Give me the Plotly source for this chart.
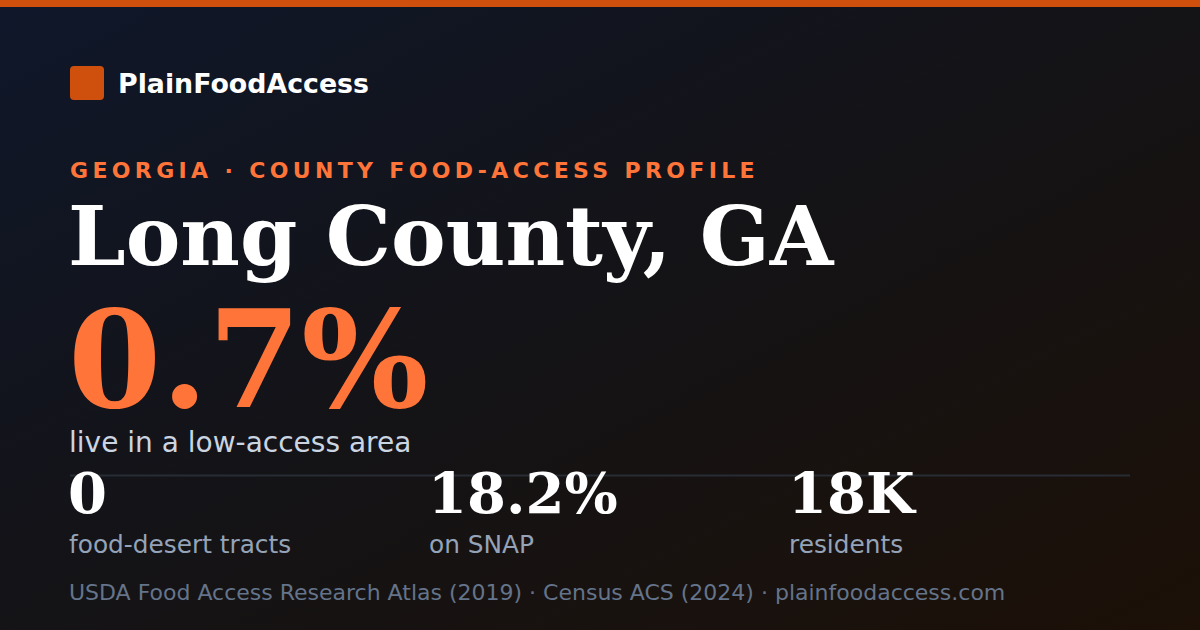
import base64
import plotly.graph_objects as go

# ---- data ----
brand = "PlainFoodAccess"
state_name = "GEORGIA"
county_name = "Long County, GA"
low_access_share = "0.7%"
low_access_label = "live in a low-access area"
stat_values = ["0", "18.2%", "18K"]
stat_labels = ["food-desert tracts", "on SNAP", "residents"]
sources = ["USDA Food Access Research Atlas (2019)", "Census ACS (2024)", "plainfoodaccess.com"]

# ---- style ----
W, H = 1200, 630
ORANGE = "#ff7439"
BRAND_ORANGE = "#cf4f0d"
SANS = "DejaVu Sans"
SERIF = "DejaVu Serif"
stat_cols = [70, 430, 790]

# gradient background as an svg image
svg = f"""<svg xmlns='http://www.w3.org/2000/svg' width='{W}' height='{H}'>
<defs><linearGradient id='g' x1='0' y1='0' x2='1' y2='1'>
<stop offset='0' stop-color='#0f172a'/>
<stop offset='0.5' stop-color='#141316'/>
<stop offset='1' stop-color='#1c1007'/>
</linearGradient></defs>
<rect width='{W}' height='{H}' fill='url(#g)'/></svg>"""
bg_uri = "data:image/svg+xml;base64," + base64.b64encode(svg.encode()).decode()

fig = go.Figure()


def label(x, y, text, size, color, family=SANS, bold=False):
    fig.add_annotation(
        x=x, y=y, xref="x", yref="y", text=text, showarrow=False,
        xanchor="left", yanchor="middle",
        font=dict(size=size, color=color, family=family,
                  weight="bold" if bold else "normal"),
    )


# top bar, logo square, divider
fig.add_shape(type="rect", x0=0, x1=W, y0=0, y1=7, line_width=0,
              fillcolor=BRAND_ORANGE, layer="above")
fig.add_shape(type="path", path="M 74 66 L 100 66 Q 104 66 104 70 L 104 96 Q 104 100 100 100 "
              "L 74 100 Q 70 100 70 96 L 70 70 Q 70 66 74 66 Z",
              line_width=0, fillcolor=BRAND_ORANGE)
fig.add_shape(type="line", x0=70, x1=1130, y0=475.5, y1=475.5,
              line=dict(color="#272c35", width=2))

label(116, 83, brand, 26.8, "#ffffff", bold=True)
label(68, 170, state_name + " · COUNTY FOOD-ACCESS PROFILE", 22, ORANGE, bold=True)
label(66, 236, county_name, 82, "#ffffff", family=SERIF, bold=True)
label(66, 360, low_access_share, 134, ORANGE, family=SERIF, bold=True)
label(67, 442, low_access_label, 28, "#cbd5e1")

for x, v, lab in zip(stat_cols, stat_values, stat_labels):
    label(x - 4, 493, v, 56, "#ffffff", family=SERIF, bold=True)
    label(x - 3, 544, lab, 24.8, "#94a3b8")

label(67, 592, " · ".join(sources), 22, "#64748b")

fig.update_layout(
    width=W, height=H,
    margin=dict(l=0, r=0, t=0, b=0),
    paper_bgcolor="#131418", plot_bgcolor="rgba(0,0,0,0)",
    showlegend=False,
    xaxis=dict(range=[0, W], visible=False, fixedrange=True),
    yaxis=dict(range=[H, 0], visible=False, fixedrange=True),
    images=[dict(source=bg_uri, xref="paper", yref="paper", x=0, y=1,
                 sizex=1, sizey=1, sizing="stretch", layer="below")],
)

# page margin off, and letter spacing for the kicker line
post = """
document.body.style.margin = '0';
document.querySelectorAll('text.annotation-text').forEach(function(t){
  if (t.textContent.indexOf('PROFILE') >= 0) {
    var left = t.getBBox().x;
    t.setAttribute('text-anchor', 'start');
    t.setAttribute('x', left);
    t.style.letterSpacing = '4.35px';
  }
});
"""
fig.write_html("out.html", post_script=post, config={"displayModeBar": False})
